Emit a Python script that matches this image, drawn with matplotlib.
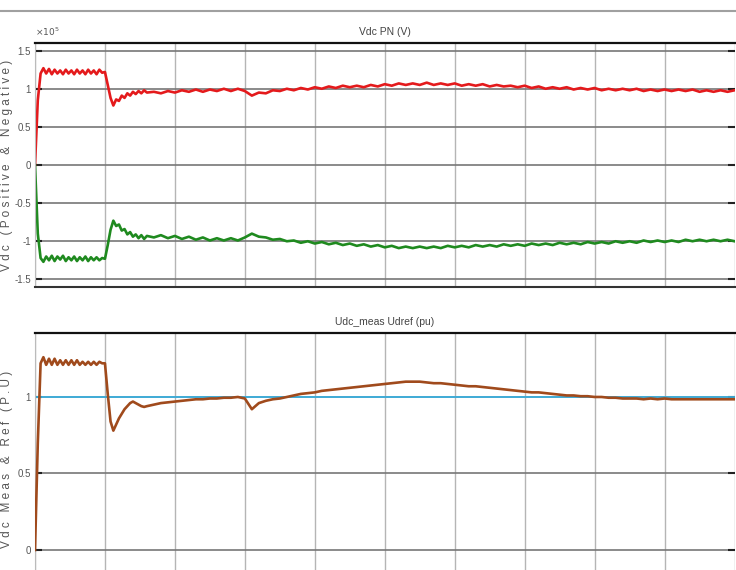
import numpy as np
import matplotlib
matplotlib.use("Agg")
import matplotlib.pyplot as plt
from matplotlib.lines import Line2D

plt.rcParams['font.family'] = ['Liberation Sans Narrow', 'Liberation Sans', 'DejaVu Sans']

# time axis (fine start-up segment, coarse remainder)
t_fine = np.round(np.arange(0, 1.6001, 0.04), 2)
t_coarse = np.round(np.arange(1.7, 10.001, 0.1), 2)

# Vdc positive (x1e5 V)
vdc_pos_fine = [0, 0.85, 1.20, 1.27, 1.20, 1.26, 1.19, 1.25, 1.20, 1.24, 1.19, 1.25, 1.20, 1.24,
                1.19, 1.25, 1.20, 1.24, 1.19, 1.25, 1.20, 1.24, 1.19, 1.25, 1.21, 1.22, 1.05, 0.88,
                0.78, 0.86, 0.84, 0.91, 0.88, 0.94, 0.91, 0.96, 0.93, 0.97, 0.94, 0.98, 0.95]
vdc_pos_coarse = [0.96, 0.94, 0.97, 0.95, 0.98, 0.96, 0.99, 0.96, 0.99, 0.97, 1.00, 0.97, 1.00, 0.97,
                  0.91, 0.95, 0.94, 0.98, 0.97, 1.00, 0.98, 1.01, 0.99, 1.02, 1.00, 1.03, 1.01, 1.04,
                  1.02, 1.04, 1.02, 1.05, 1.03, 1.06, 1.04, 1.07, 1.05, 1.07, 1.05, 1.08, 1.05, 1.07,
                  1.05, 1.07, 1.04, 1.06, 1.04, 1.06, 1.03, 1.05, 1.03, 1.04, 1.02, 1.04, 1.01, 1.03,
                  1.00, 1.02, 1.00, 1.02, 0.99, 1.01, 0.99, 1.01, 0.98, 1.00, 0.98, 1.00, 0.98, 1.00,
                  0.97, 0.99, 0.97, 0.99, 0.97, 0.99, 0.97, 0.99, 0.96, 0.98, 0.96, 0.98, 0.96, 0.98]

# Vdc negative (x1e5 V)
vdc_neg_fine = [0, -0.90, -1.22, -1.27, -1.20, -1.25, -1.19, -1.26, -1.20, -1.24, -1.19, -1.26, -1.21,
                -1.25, -1.20, -1.26, -1.21, -1.25, -1.20, -1.26, -1.21, -1.25, -1.21, -1.25, -1.22,
                -1.23, -1.05, -0.85, -0.73, -0.80, -0.78, -0.86, -0.84, -0.91, -0.88, -0.94, -0.91,
                -0.96, -0.92, -0.97, -0.93]
vdc_neg_coarse = [-0.95, -0.92, -0.96, -0.93, -0.97, -0.94, -0.98, -0.95, -0.99, -0.96, -0.99, -0.96,
                  -0.99, -0.95, -0.90, -0.94, -0.95, -0.98, -0.97, -1.00, -0.99, -1.02, -1.00, -1.03,
                  -1.01, -1.04, -1.02, -1.05, -1.03, -1.06, -1.04, -1.07, -1.05, -1.08, -1.06, -1.09,
                  -1.07, -1.09, -1.07, -1.09, -1.07, -1.09, -1.06, -1.08, -1.06, -1.08, -1.05, -1.07,
                  -1.05, -1.07, -1.04, -1.06, -1.04, -1.06, -1.03, -1.05, -1.03, -1.05, -1.02, -1.04,
                  -1.02, -1.04, -1.01, -1.03, -1.01, -1.03, -1.00, -1.02, -1.00, -1.02, -0.99, -1.01,
                  -0.99, -1.01, -0.99, -1.01, -0.98, -1.00, -0.98, -1.00, -0.98, -1.00, -0.98, -1.00]

# Udc measured (pu)
udc_meas_fine = [0, 0.70, 1.22, 1.26, 1.21, 1.25, 1.21, 1.25, 1.21, 1.24, 1.21, 1.24, 1.21, 1.24,
                 1.21, 1.24, 1.21, 1.23, 1.21, 1.23, 1.21, 1.23, 1.21, 1.23, 1.22, 1.22, 1.02, 0.84,
                 0.78, 0.82, 0.86, 0.89, 0.92, 0.94, 0.96, 0.97, 0.96, 0.95, 0.94, 0.935, 0.94]
udc_meas_coarse = [0.95, 0.96, 0.965, 0.97, 0.975, 0.98, 0.985, 0.985, 0.99, 0.99, 0.995, 0.995,
                   1.00, 0.99, 0.92, 0.96, 0.975, 0.985, 0.99, 1.00, 1.01, 1.02, 1.025, 1.03, 1.04,
                   1.045, 1.05, 1.055, 1.06, 1.065, 1.07, 1.075, 1.08, 1.085, 1.09, 1.095, 1.10, 1.10,
                   1.10, 1.095, 1.09, 1.09, 1.085, 1.08, 1.075, 1.07, 1.07, 1.065, 1.06, 1.055, 1.05,
                   1.045, 1.04, 1.035, 1.03, 1.03, 1.025, 1.02, 1.015, 1.01, 1.01, 1.005, 1.005, 1.00,
                   1.00, 0.995, 0.995, 0.99, 0.99, 0.99, 0.985, 0.99, 0.985, 0.99, 0.985, 0.985,
                   0.985, 0.985, 0.985, 0.985, 0.985, 0.985, 0.985, 0.985]
# Udc reference (pu)
udc_ref_t = [0, 10]
udc_ref = [1.0, 1.0]

t = np.concatenate([t_fine, t_coarse])
vp = np.concatenate([vdc_pos_fine, vdc_pos_coarse])
vn = np.concatenate([vdc_neg_fine, vdc_neg_coarse])
um = np.concatenate([udc_meas_fine, udc_meas_coarse])

fig = plt.figure(figsize=(7.36, 5.70), dpi=100)
fig.add_artist(Line2D([0, 1], [1 - 10.5 / 570, 1 - 10.5 / 570], transform=fig.transFigure,
                      color='#a0a0a0', lw=1.5))

L = 35 / 736
W = 0.998 - L
ax1 = fig.add_axes([L, 1 - 287 / 570, W, (287 - 43) / 570])
ax2 = fig.add_axes([L, -0.02, W, 1 - 333 / 570 + 0.02])

tick_col = '#555555'
for ax in (ax1, ax2):
    ax.set_xlim(0, 10)
    ax.set_xticks(np.arange(0, 11, 1))
    ax.tick_params(axis='x', length=0, labelbottom=False)
    ax.tick_params(axis='y', direction='in', length=5, width=1.5, color='#222222',
                   labelsize=7, labelcolor=tick_col, left=True, right=True, pad=3)
    ax.xaxis.grid(True, color='#b5b5b5', lw=1.0)
    ax.yaxis.grid(True, color='#777777', lw=1.2)
    ax.set_axisbelow(True)
    ax.spines['top'].set_color('#111111')
    ax.spines['top'].set_linewidth(1.6)
    ax.spines['left'].set_color('#bbbbbb')
    ax.spines['right'].set_visible(False)
    ax.spines['bottom'].set_color('#333333')
    ax.spines['bottom'].set_linewidth(1.5)

ax1.plot(t, vp, color='#e41a1c', lw=1.9)
ax1.plot(t, vn, color='#1f8a1f', lw=1.9)
ax1.set_ylim(-1.6, 1.6)
ax1.set_yticks([-1.5, -1, -0.5, 0, 0.5, 1, 1.5])
ax1.set_yticklabels(['-1.5', '-1', '-0.5', '0', '0.5', '1', '1.5'])
ax1.set_title('Vdc PN (V)', fontsize=7.5, color='#444444', pad=6)
ax1.text(0.0, 1.02, r'$\times10^5$', transform=ax1.transAxes, fontsize=6.5, color='#555555',
         ha='left', va='bottom')
ax1.set_ylabel('V d c   ( P o s i t i v e   &   N e g a t i v e )', fontsize=8.5,
               color='#555555', labelpad=10)

ax2.plot(udc_ref_t, udc_ref, color='#3cb0de', lw=1.3, zorder=2)
ax2.plot(t, um, color='#a04a1c', lw=1.9, zorder=3)
ax2.set_ylim(-0.205, 1.418)
ax2.set_yticks([0, 0.5, 1])
ax2.set_yticklabels(['0', '0.5', '1'])
ax2.set_title('Udc_meas Udref (pu)', fontsize=7.5, color='#444444', pad=6)
ax2.set_ylabel('V d c   M e a s   &   R e f   ( P . U )', fontsize=8.5, color='#555555',
               labelpad=10)
ax2.yaxis.set_label_coords(-0.032, 0.49)
ax1.yaxis.set_label_coords(-0.032, 0.5)

fig.savefig('out.png', dpi=100)
